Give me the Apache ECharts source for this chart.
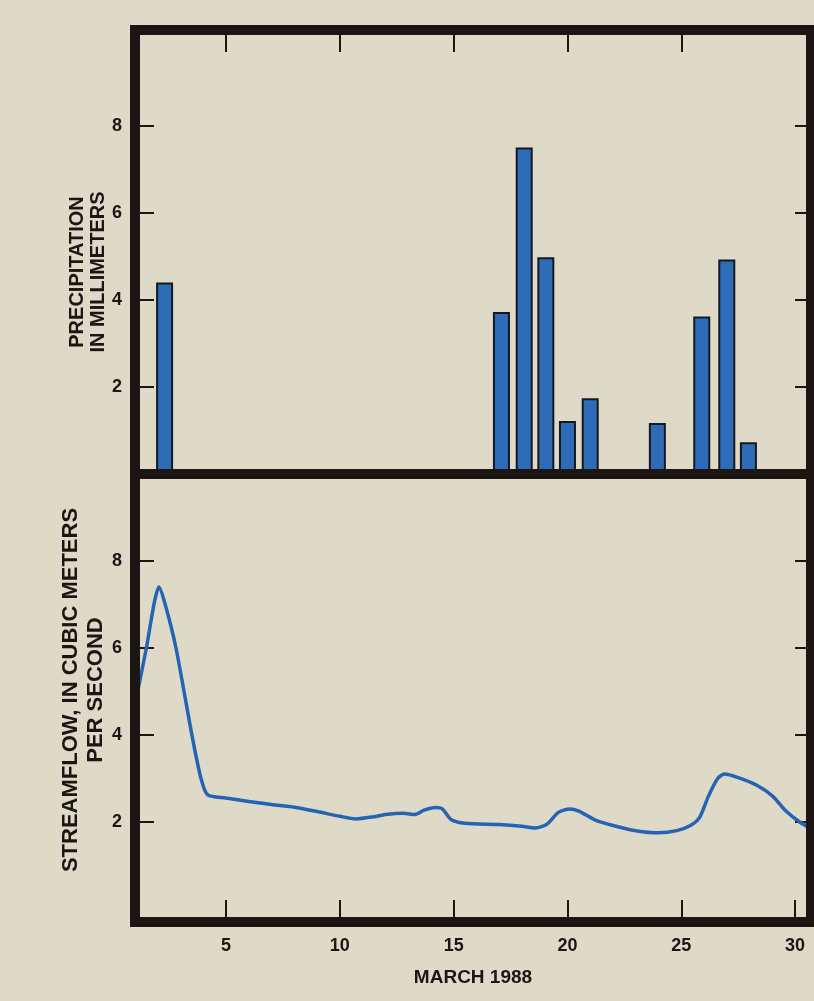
<!DOCTYPE html>
<html>
<head>
<meta charset="utf-8">
<script src="https://cdn.jsdelivr.net/npm/echarts@6/dist/echarts.min.js"></script>
<style>
html,body{margin:0;padding:0;background:#dfd9c8;}
#c{width:814px;height:1001px;}
</style>
</head>
<body>
<div id="c"></div>
<script>
// Precipitation bars (day of March 1988, millimeters)
var barDays = [2.3, 17.1, 18.1, 19.05, 20, 21, 23.95, 25.9, 27, 27.95];
var precip  = [4.4, 3.72, 7.5, 4.98, 1.22, 1.74, 1.17, 3.62, 4.93, 0.73];

// Streamflow line (day, cubic meters per second)
var flowDays = [1, 1.5, 1.85, 2.05, 2.3, 2.8, 3.5, 3.9, 4.2, 5, 6, 7, 8, 9, 10, 10.7, 11.5, 12, 12.8, 13.3, 13.7, 14.2, 14.5, 14.9, 15.5, 17, 18, 18.6, 19.1, 19.6, 20.1, 20.5, 21.2, 22, 23, 24, 24.8, 25.4, 25.8, 26.2, 26.6, 26.9, 27.5, 28.3, 29, 29.6, 30.2, 30.7];
var flow     = [4.7, 6.0, 7.05, 7.4, 7.05, 6.0, 4.0, 3.0, 2.62, 2.55, 2.47, 2.4, 2.34, 2.24, 2.13, 2.07, 2.12, 2.17, 2.2, 2.17, 2.27, 2.33, 2.3, 2.05, 1.97, 1.94, 1.9, 1.86, 1.95, 2.22, 2.3, 2.25, 2.05, 1.92, 1.8, 1.75, 1.8, 1.92, 2.1, 2.6, 3.0, 3.1, 3.02, 2.85, 2.6, 2.25, 2.0, 1.85];

var xTicksTop = [5, 10, 15, 20, 25];
var xTicksBottom = [5, 10, 15, 20, 25, 30];
var yTicks = [2, 4, 6, 8];

var ink = '#1b1513';
var font = 'Liberation Sans, Arial, sans-serif';

var chart = echarts.init(document.getElementById('c'), null, {renderer: 'canvas'});

function yAx(grid, min, max, side) {
  return {
    type: 'value', gridIndex: grid, min: min, max: max, position: side,
    axisLine: {show: false, onZero: false}, splitLine: {show: false},
    axisTick: {show: true, inside: true, length: side === 'left' ? 19 : 16,
      lineStyle: {color: ink, width: 2}, customValues: yTicks},
    axisLabel: {show: side === 'left', customValues: yTicks, margin: 13,
      color: ink, fontSize: 18, fontWeight: 'bold', fontFamily: font}
  };
}

chart.setOption({
  backgroundColor: '#dfd9c8',
  animation: false,
  grid: [
    {left: 135, top: 30, width: 676, height: 444, show: true, borderColor: ink, borderWidth: 10, backgroundColor: 'transparent', z: 5},
    {left: 135, top: 474, width: 676, height: 448, show: true, borderColor: ink, borderWidth: 10, backgroundColor: 'transparent', z: 5}
  ],
  xAxis: [
    {type: 'value', gridIndex: 0, min: 1, max: 30.7, position: 'top',
      axisLine: {show: false, onZero: false}, splitLine: {show: false},
      axisTick: {show: true, inside: true, length: 22, lineStyle: {color: ink, width: 2}, customValues: xTicksTop},
      axisLabel: {show: false}},
    {type: 'value', gridIndex: 1, min: 1, max: 30.7, position: 'bottom',
      axisLine: {show: false, onZero: false}, splitLine: {show: false},
      axisTick: {show: true, inside: true, length: 22, lineStyle: {color: ink, width: 2}, customValues: xTicksBottom},
      axisLabel: {show: true, customValues: xTicksBottom, margin: 15, color: ink, fontSize: 18, fontWeight: 'bold', fontFamily: font},
      name: 'MARCH 1988', nameLocation: 'middle', nameGap: 46,
      nameTextStyle: {color: ink, fontSize: 19, fontWeight: 'bold', fontFamily: font}}
  ],
  yAxis: [
    yAx(0, 0, 10.2, 'left'),
    yAx(0, 0, 10.2, 'right'),
    yAx(1, -0.3, 10, 'left'),
    yAx(1, -0.3, 10, 'right')
  ],
  graphic: [
    {type: 'text', x: 88, y: 272, rotation: Math.PI / 2, z: 10,
      style: {text: 'PRECIPITATION\nIN MILLIMETERS', fill: ink, font: 'bold 20px ' + font, lineHeight: 21, align: 'center', verticalAlign: 'middle'}},
    {type: 'text', x: 83, y: 690, rotation: Math.PI / 2, z: 10,
      style: {text: 'STREAMFLOW, IN CUBIC METERS\nPER SECOND', fill: ink, font: 'bold 22px ' + font, lineHeight: 25, align: 'center', verticalAlign: 'middle'}}
  ],
  series: [
    {type: 'bar', xAxisIndex: 0, yAxisIndex: 0, barWidth: 17, z: 1,
      data: barDays.map(function (d, i) { return [d, precip[i]]; }),
      itemStyle: {color: '#2f6cb8', borderColor: '#161820', borderWidth: 2}},
    {type: 'line', xAxisIndex: 1, yAxisIndex: 2, smooth: 0.25, symbol: 'none', z: 1,
      data: flowDays.map(function (d, i) { return [d, flow[i]]; }),
      lineStyle: {color: '#2563b3', width: 3.5}}
  ]
});
</script>
</body>
</html>
